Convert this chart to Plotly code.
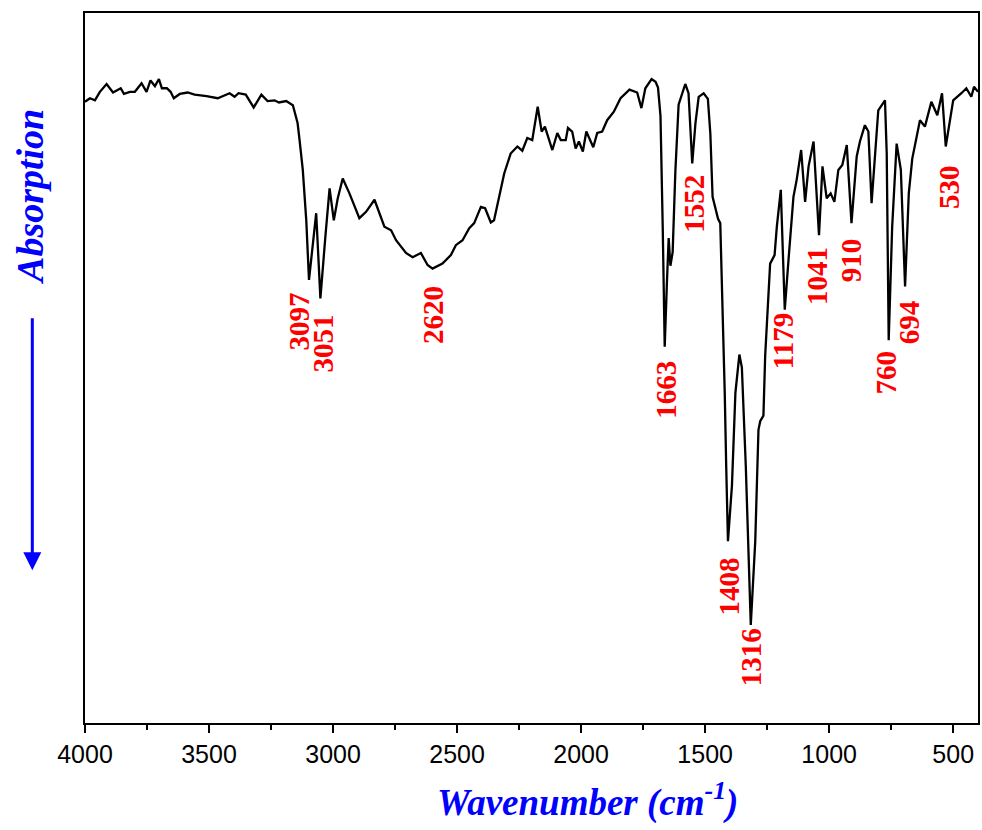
import plotly.graph_objects as go

# FT-IR spectrum (wavenumber in cm-1, transmittance in a.u.)
wavenumber = [
    4000, 3980, 3960, 3940, 3913, 3887, 3856, 3843, 3819, 3799, 3772, 3752, 3736, 3718, 3702,
    3690, 3670, 3655, 3642, 3618, 3586, 3558, 3510, 3465, 3417, 3397, 3381, 3352, 3320, 3289,
    3264, 3236, 3218, 3189, 3162, 3143, 3135, 3122, 3108, 3097, 3068, 3051, 3031, 3014, 2997,
    2981, 2961, 2934, 2894, 2867, 2833, 2793, 2766, 2746, 2706, 2679, 2646, 2619, 2599, 2559,
    2525, 2505, 2478, 2451, 2431, 2404, 2387, 2364, 2351, 2331, 2310, 2284, 2257, 2237, 2217,
    2197, 2175, 2159, 2146, 2116, 2096, 2082, 2062, 2053, 2036, 2022, 2009, 1993, 1979, 1951,
    1935, 1915, 1895, 1868, 1841, 1805, 1774, 1757, 1741, 1716, 1700, 1690, 1680, 1671, 1667,
    1663, 1654, 1647, 1640, 1631, 1620, 1607, 1580, 1567, 1552, 1539, 1526, 1506, 1489, 1479,
    1470, 1448, 1439, 1432, 1421, 1415, 1408, 1392, 1378, 1362, 1352, 1336, 1325, 1316, 1298,
    1285, 1278, 1265, 1258, 1238, 1220, 1211, 1195, 1179, 1164, 1144, 1131, 1113, 1097, 1083,
    1063, 1041, 1027, 1010, 994, 979, 963, 947, 929, 910, 889, 876, 856, 842, 829,
    815, 802, 775, 768, 760, 746, 728, 711, 694, 679, 665, 634, 614, 588, 564,
    545, 530, 500, 467, 447, 427, 416, 400,
]
transmittance = [
    87.5, 88.0, 87.7, 88.9, 90.0, 88.8, 89.4, 88.6, 88.9, 88.9, 90.1, 88.9, 90.5, 89.7, 90.7,
    89.4, 89.4, 88.9, 88.0, 88.6, 88.8, 88.5, 88.3, 88.0, 88.7, 88.2, 88.7, 88.5, 86.7, 88.5,
    87.6, 87.7, 87.4, 87.6, 87.0, 84.5, 82.1, 77.9, 70.8, 62.4, 71.8, 59.8, 68.5, 75.3, 70.8,
    73.9, 76.7, 74.6, 71.1, 72.0, 73.7, 69.9, 69.4, 68.0, 66.2, 65.6, 66.2, 64.5, 64.0, 64.7,
    65.9, 67.3, 68.0, 69.7, 70.4, 72.7, 72.5, 70.5, 70.8, 74.1, 77.4, 80.2, 81.2, 80.6, 82.4,
    82.1, 86.8, 83.3, 84.0, 80.7, 83.1, 82.1, 82.1, 83.8, 83.3, 80.9, 81.9, 80.5, 83.3, 81.1,
    83.1, 83.3, 84.9, 86.1, 88.0, 89.2, 88.8, 86.6, 89.4, 90.7, 90.3, 89.5, 85.5, 69.9, 59.5,
    53.0, 62.1, 68.3, 64.4, 66.3, 77.7, 87.1, 90.0, 88.7, 78.8, 84.5, 88.2, 88.7, 87.9, 83.0,
    74.1, 71.0, 70.4, 62.1, 46.5, 36.1, 25.6, 33.4, 46.5, 51.9, 50.1, 36.1, 23.0, 13.8, 25.6,
    41.3, 42.5, 43.3, 51.7, 64.7, 65.9, 69.9, 75.1, 58.2, 65.2, 74.1, 76.5, 80.7, 73.4, 78.4,
    81.9, 68.7, 78.4, 73.9, 74.6, 73.4, 77.9, 78.6, 81.4, 70.4, 79.8, 81.9, 84.2, 83.3, 73.2,
    80.7, 86.3, 87.7, 80.2, 53.9, 69.9, 81.6, 77.9, 61.5, 74.6, 79.5, 84.9, 84.0, 87.5, 85.6,
    88.7, 81.2, 87.7, 88.7, 89.4, 88.2, 89.6, 88.9,
]

# peak labels and where their centres sit
peak_labels = ["3097", "3051", "2620", "1663", "1552", "1408", "1316",
               "1179", "1041", "910", "760", "694", "530"]
label_x = [3139, 3039, 2600, 1659, 1546, 1405, 1317, 1188, 1052, 911, 770, 677, 517]
label_y = [56.5, 53.5, 57.5, 46.9, 73.1, 19.2, 9.2, 53.7, 63.0, 65.2, 49.4, 56.5, 75.5]

fig = go.Figure()
fig.add_trace(go.Scatter(
    x=wavenumber, y=transmittance, mode="lines",
    line=dict(color="black", width=2.3), showlegend=False,
))

for txt, lx, ly in zip(peak_labels, label_x, label_y):
    fig.add_annotation(
        x=lx, y=ly, text="<b>%s</b>" % txt, showarrow=False, textangle=-90,
        font=dict(family="Liberation Serif", size=29, color="red"),
        xanchor="center", yanchor="middle",
    )

# axis titles
fig.add_annotation(
    xref="paper", yref="paper", x=0.563, y=-0.108,
    text="<b><i>Wavenumber (cm<sup>-1</sup>)</i></b>", showarrow=False,
    font=dict(family="Liberation Serif", size=37, color="blue"),
    xanchor="center", yanchor="middle",
)
fig.add_annotation(
    xref="paper", yref="paper", x=-0.0615, y=0.741,
    text="<b><i>Absorption</i></b>", showarrow=False, textangle=-90,
    font=dict(family="Liberation Serif", size=38, color="blue"),
    xanchor="center", yanchor="middle",
)
# blue downward arrow
fig.add_annotation(
    xref="paper", yref="paper", x=-0.059, y=0.215, text=" ",
    showarrow=True, arrowhead=2, arrowsize=1.2, arrowwidth=3, arrowcolor="blue",
    ax=0, ay=-262,
)

fig.update_xaxes(
    range=[4000, 400], tickvals=[4000, 3500, 3000, 2500, 2000, 1500, 1000, 500],
    ticks="outside", ticklen=8, tickwidth=2, tickcolor="black",
    minor=dict(dtick=250, ticks="outside", ticklen=5, tickwidth=2, tickcolor="black"),
    showline=True, linecolor="black", linewidth=2, mirror=True,
    showgrid=False, zeroline=False,
    tickfont=dict(family="Liberation Sans", size=25, color="black"),
)
fig.update_yaxes(
    range=[0, 100], showticklabels=False, ticks="",
    showline=True, linecolor="black", linewidth=2, mirror=True,
    showgrid=False, zeroline=False,
)
fig.update_layout(
    width=982, height=830,
    margin=dict(l=85, r=2, t=13, b=107),
    plot_bgcolor="white", paper_bgcolor="white",
)

# drop the default page margin so the figure sits at the window's corner
fig.write_html("out.html", config={"displayModeBar": False},
               post_script="document.body.style.margin='0';")
